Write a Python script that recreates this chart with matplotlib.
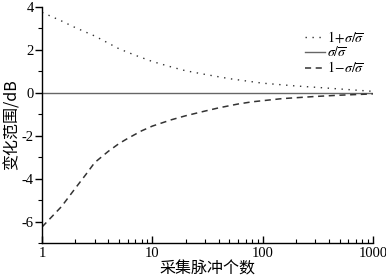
import matplotlib
matplotlib.use("Agg")
import matplotlib.pyplot as plt
from matplotlib.ticker import FixedLocator, NullFormatter

plt.rcParams["font.family"] = ["Liberation Serif", "DejaVu Serif"]
plt.rcParams["mathtext.fontset"] = "stix"

n_upper = [1, 1.5, 2, 3, 5, 7, 10, 15, 20, 30, 50, 100, 200, 300, 500, 1000]
db_upper = [3.75, 3.35, 3.04, 2.65, 2.05, 1.75, 1.46, 1.2, 1.03, 0.86,
            0.66, 0.45, 0.32, 0.26, 0.18, 0.07]

n_lower = [1, 1.5, 2, 2.5, 3, 4, 5, 6, 8, 10, 15, 20, 30, 40, 60, 80,
           150, 300, 500, 1000]
db_lower = [-6.25, -5.3, -4.45, -3.8, -3.25, -2.72, -2.36, -2.12, -1.77,
            -1.55, -1.25, -1.07, -0.85, -0.7, -0.52, -0.42, -0.27, -0.17,
            -0.11, -0.05]

n_mid = [1, 1000]
db_mid = [0, 0]

labels = [r"$1\!+\!\sigma/\overline{\sigma}$", r"$\sigma/\overline{\sigma}$",
          r"$1\!-\!\sigma/\overline{\sigma}$"]
x_ticks = [1, 10, 100, 1000]
x_ticklabels = ["1", "10", "100", "1000"]
y_ticks = [-6, -4, -2, 0, 2, 4]
y_ticklabels = ["-6", "-4", "-2", "0", "2", "4"]

fig = plt.figure(figsize=(3.86, 2.8), dpi=100)
ax = fig.add_axes([0.109, 0.132, 0.857, 0.843])

ax.plot(n_upper, db_upper, color="#333333", lw=1.0, ls=(0, (1, 4)), label=labels[0])
ax.plot(n_mid, db_mid, color="#666666", lw=1.0, ls="-", label=labels[1])
ax.plot(n_lower, db_lower, color="#333333", lw=1.1, ls=(0, (4, 3)), label=labels[2])

ax.set_xscale("log")
ax.set_xlim(1, 1000)
ax.set_ylim(-7, 4)

ax.xaxis.set_major_locator(FixedLocator(x_ticks))
ax.set_xticklabels(x_ticklabels)
ax.xaxis.set_minor_locator(FixedLocator([d * m for d in (1, 10, 100) for m in range(2, 10)]))
ax.xaxis.set_minor_formatter(NullFormatter())
ax.tick_params(axis="x", which="major", direction="in", length=5, width=1, pad=3)
ax.tick_params(axis="x", which="minor", direction="in", length=3, width=0.8)

ax.yaxis.set_major_locator(FixedLocator(y_ticks))
ax.set_yticklabels(y_ticklabels)
ax.yaxis.set_minor_locator(FixedLocator([-7, -5, -3, -1, 1, 3]))
ax.tick_params(axis="y", which="major", direction="out", length=5, width=1, pad=1)
ax.tick_params(axis="y", which="minor", direction="out", length=3, width=0.8)
ax.tick_params(labelsize=10.5)

for side in ("top", "right"):
    ax.spines[side].set_visible(False)
for side in ("left", "bottom"):
    ax.spines[side].set_linewidth(1.0)

cjk = ["Noto Sans CJK SC", "DejaVu Sans"]
ax.set_xlabel("采集脉冲个数", family=cjk, fontsize=11.5, labelpad=0)
ax.set_ylabel("变化范围/dB", family=cjk, fontsize=11.5, labelpad=1)

ax.legend(loc="upper right", bbox_to_anchor=(1.0, 0.94), frameon=False,
          fontsize=10, handlelength=1.4, handletextpad=0.2, labelspacing=0.0,
          borderaxespad=0.2)

fig.savefig("out.png", dpi=100)
